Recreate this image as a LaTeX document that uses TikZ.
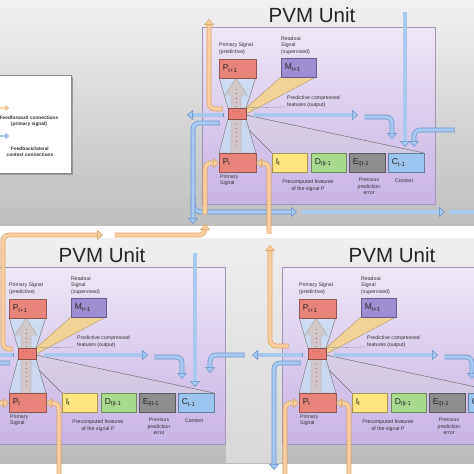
\documentclass[tikz,border=0pt]{standalone}
\usepackage{fontspec}
\setmainfont{Liberation Sans}
\usetikzlibrary{arrows.meta}
\definecolor{bfill}{HTML}{A9C9EF}
\definecolor{bedge}{HTML}{6C95CC}
\definecolor{ofill}{HTML}{F9D0A4}
\definecolor{oedge}{HTML}{DCA468}
\definecolor{gtop}{HTML}{F0F0F0}
\definecolor{gbot}{HTML}{BEBEBE}
\definecolor{pvtop}{HTML}{EEE7F5}
\definecolor{pvbot}{HTML}{C7B3E3}
\definecolor{pvedge}{HTML}{A395B6}
\definecolor{pred}{HTML}{E9847C}
\definecolor{mread}{HTML}{9D8FD1}
\definecolor{ifeat}{HTML}{FFE57F}
\definecolor{dfeat}{HTML}{A9D98D}
\definecolor{efeat}{HTML}{8D8D8D}
\definecolor{cfeat}{HTML}{9CC4EE}
\definecolor{glassc}{HTML}{C9DDF1}
\definecolor{bandc}{HTML}{F2D48E}
\definecolor{txt}{HTML}{333333}
\tikzset{
  fatb/.style={draw=bfill, line width=3.4pt, rounded corners=6pt,
    -{Triangle[length=6pt,width=10pt,fill=bfill,color=bedge,line width=0.6pt]},
    preaction={draw=bedge, line width=4.8pt, arrows=-, shorten >=5pt, shorten <=-0.5pt}},
  fatbn/.style={draw=bfill, line width=3.4pt, rounded corners=6pt,
    preaction={draw=bedge, line width=4.8pt}},
  fato/.style={draw=ofill, line width=3.4pt, rounded corners=6pt,
    -{Triangle[length=6pt,width=10pt,fill=ofill,color=oedge,line width=0.6pt]},
    preaction={draw=oedge, line width=4.8pt, arrows=-, shorten >=5pt, shorten <=-0.5pt}},
  fatos/.style={draw=ofill, line width=2pt,
    -{Triangle[length=3.5pt,width=6pt,fill=ofill,color=oedge,line width=0.4pt]},
    preaction={draw=oedge, line width=2.8pt, arrows=-, shorten >=3pt}},
  fatbs/.style={draw=bfill, line width=2pt,
    -{Triangle[length=3.5pt,width=6pt,fill=bfill,color=bedge,line width=0.4pt]},
    preaction={draw=bedge, line width=2.8pt, arrows=-, shorten >=3pt}},
  ubox/.style={draw=#1!65!black, fill=#1, line width=0.5pt, anchor=north west,
    inner xsep=3.5pt, inner ysep=1pt, minimum height=18.5pt, align=left,
    font=\fontsize{8.5}{9}\selectfont, text=black!85},
  small/.style={font=\fontsize{5.2}{6.5}\selectfont, text=txt, inner sep=0pt},
  title/.style={font=\fontsize{20.5}{22}\selectfont, text=black!85, inner sep=0pt},
  legtext/.style={font=\fontsize{4.8}{6.5}\selectfont\bfseries, text=txt, align=center, inner sep=0pt},
  pvm/.pic={
    \shade[top color=pvtop, bottom color=pvbot, draw=pvedge, line width=0.5pt] (0,0) rectangle (233,177);
    \node[title] (-title) at (110,-12) {PVM Unit};
    \fill[pvedge!45, opacity=0.5] (36,92) -- (70,126) -- (222,126) -- (44,88) -- cycle;
    \draw[black!55, line width=0.5pt] (36,92) -- (70,126);
    \draw[black!55, line width=0.5pt] (44,88) -- (222,126);
    \filldraw[fill=glassc, fill opacity=0.8, draw=black!50, line width=0.5pt] (17,50) -- (26,81) -- (44,81) -- (54,50) -- cycle;
    \filldraw[fill=glassc, fill opacity=0.8, draw=black!50, line width=0.5pt] (26,92) -- (17,126) -- (54,126) -- (44,92) -- cycle;
    \filldraw[fill=pred!30!gray!45, fill opacity=0.85, draw=black!35, line width=0.4pt]
      (29,126) -- (29,68) -- (23,68) -- (34,51) -- (45,68) -- (39,68) -- (39,126) -- cycle;
    \draw[pred!80!black, line width=0.8pt, dash pattern=on 0.8pt off 3.5pt] (34,62) -- (34,122);
    \filldraw[fill=bandc, fill opacity=0.9, draw=bandc!70!black, line width=0.4pt] (44,81) -- (79,50) -- (114,50) -- (44,87) -- cycle;
    \node[ubox=pred, text width=30pt] (-pt1) at (17,32) {P\textsubscript{t+1}};
    \node[ubox=mread, text width=28pt] (-m) at (79,31) {M\textsubscript{t+1}};
    \node[ubox=pred, text width=30pt] (-pt) at (17,126) {P\textsubscript{t}};
    \node[ubox=ifeat, text width=28pt] (-i) at (70,126) {I\textsubscript{t}};
    \node[ubox=dfeat, text width=28pt] (-d) at (109,126) {D\textsubscript{t|t-1}};
    \node[ubox=efeat, text width=29pt] (-e) at (147,126) {E\textsubscript{t|t-1}};
    \node[ubox=cfeat, text width=29pt] (-c) at (186,126) {C\textsubscript{t-1}};
    \node[draw=pred!60!black, fill=pred!95!red, line width=0.5pt, minimum width=18pt, minimum height=11pt, inner sep=0pt] (-cb) at (35,86.5) {};
    \draw[pred!80!black, line width=0.7pt, dash pattern=on 0.7pt off 2.5pt] (-cb.west) ++(5,-2) -- ++(8,0);
    \draw[black!45, line width=0.3pt] (-cb.north east) -- (84,80);
    \node[small, anchor=north west, align=left] (-lp1) at (17,16) {Primary Signal\\(predictive)};
    \node[small, anchor=north west, align=left] (-lm) at (79,9.5) {Readout\\Signal\\(supervised)};
    \node[small, anchor=north west, align=left] (-lcf) at (85,69) {Predictive compressed\\features (output)};
    \node[small, anchor=north west, align=left] (-lpt) at (18,147.5) {Primary\\Signal};
    \node[small, anchor=north, align=center] (-lpf) at (106,153) {Precomputed features\\of the signal P};
    \node[small, anchor=north, align=center] (-le) at (167,151) {Previous\\prediction\\error};
    \node[small, anchor=north, align=center] (-lc) at (202,152) {Context};
  }
}
\begin{document}
\begin{tikzpicture}[x=1pt,y=-1pt]
\useasboundingbox (0,0) rectangle (474,474);
\clip (0,0) rectangle (474,474);
\fill[white] (0,0) rectangle (474,474);
\shade[top color=gtop, bottom color=gbot] (0,0) rectangle (474,225);
\shade[top color=gtop, bottom color=gbot!105] (0,238) rectangle (474,463);
\fill[gray!15, opacity=0.6] (226,238) rectangle (282,463);

% legend
\fill[black!40] (-2,76.5) rectangle (72.5,174.5);
\filldraw[fill=white, draw=black!45, line width=0.5pt] (-3,75) rectangle (71,173);
\coordinate (lgos) at (-3,108); \coordinate (lgoe) at (9,108);
\coordinate (lgbs) at (-3,136); \coordinate (lgbe) at (9,136);
\draw[fatos] (lgos) -- (lgoe);
\draw[fatbs] (lgbs) -- (lgbe);
\node[legtext] (lgff) at (29,121.5) {Feedforward connections\\(primary signal)};
\node[legtext] (lgfb) at (30,152) {Feedback/lateral\\context connections};

% units
\pic (A) at (202,27) {pvm};
\pic (B) at (-8,267) {pvm};
\pic (C) at (282,267) {pvm};

% ---- unit A connections
\coordinate (a1) at (222,109); \coordinate (a1e) at (209,19);
\draw[fato] (a1) -| (a1e);
\coordinate (a2) at (223,115); \coordinate (a2e) at (187,115);
\draw[fatb] (a2) -- (a2e);
\coordinate (a3) at (254,115); \coordinate (a3e) at (358,115);
\draw[fatb] (a3) -- (a3e);
\coordinate (a4) at (365,117); \coordinate (a4e) at (392,139);
\draw[fatb] (a4) -| (a4e);
\coordinate (a5) at (405,12); \coordinate (a5e) at (405,147);
\draw[fatb] (a5) -- (a5e);
\coordinate (a6) at (454,130); \coordinate (a6e) at (414,147);
\draw[fatb] (a6) -| (a6e);
\coordinate (a7h) at (193,196); \coordinate (a7he) at (297,212);
\draw[fatb, rounded corners=8pt] (a7h) |- (a7he);
\coordinate (a7) at (219,123); \coordinate (a7e) at (193,224);
\draw[fatb] (a7) -| (a7e);
\coordinate (a8) at (302,212); \coordinate (a8e) at (445,212);
\draw[fatb] (a8) -- (a8e);
\coordinate (a9) at (449,212); \coordinate (a9e) at (480,212);
\draw[fatbn] (a9) -- (a9e);
\coordinate (a10) at (205,214); \coordinate (a10e) at (219,163);
\draw[fato] (a10) |- (a10e);
\coordinate (a11) at (269,233); \coordinate (a11e) at (256,163);
\draw[fato] (a11) |- (a11e);

% ---- unit B connections
\coordinate (b1) at (12,349); \coordinate (b1m) at (3,235); \coordinate (b1e) at (103,235);
\draw[fato] (b1) -| (b1m) -- (b1e);
\coordinate (b2) at (115,235); \coordinate (b2e) at (205,224);
\draw[fato] (b2) -| (b2e);
\coordinate (b3) at (13,355); \coordinate (b3e) at (-25,355);
\draw[fatb] (b3) -- (b3e);
\coordinate (b4) at (9,363); \coordinate (b4e) at (-17,470);
\draw[fatb] (b4) -| (b4e);
\coordinate (b5) at (44,355); \coordinate (b5e) at (148,355);
\draw[fatb] (b5) -- (b5e);
\coordinate (b6) at (155,357); \coordinate (b6e) at (182,379);
\draw[fatb] (b6) -| (b6e);
\coordinate (b7) at (195,253); \coordinate (b7e) at (195,387);
\draw[fatb] (b7) -- (b7e);
\coordinate (b8) at (244,355); \coordinate (b8e) at (210,373);
\draw[fatb] (b8) -| (b8e);
\coordinate (b9) at (-5,480); \coordinate (b9e) at (9,403);
\draw[fato] (b9) |- (b9e);
\coordinate (b10) at (59,480); \coordinate (b10e) at (46,403);
\draw[fato] (b10) |- (b10e);

% ---- unit C connections
\coordinate (c1) at (288,346); \coordinate (c1e) at (270,245);
\draw[fato] (c1) -| (c1e);
\coordinate (c2) at (302,355); \coordinate (c2e) at (252,355);
\draw[fatb] (c2) -- (c2e);
\coordinate (c3) at (300,363); \coordinate (c3e) at (274,470);
\draw[fatb] (c3) -| (c3e);
\coordinate (c4) at (334,355); \coordinate (c4e) at (438,355);
\draw[fatb] (c4) -- (c4e);
\coordinate (c5) at (445,357); \coordinate (c5e) at (472,379);
\draw[fatb] (c5) -| (c5e);
\coordinate (c6) at (285,480); \coordinate (c6e) at (299,403);
\draw[fato] (c6) |- (c6e);
\coordinate (c7) at (349,480); \coordinate (c7e) at (336,403);
\draw[fato] (c7) |- (c7e);
\end{tikzpicture}
\end{document}
